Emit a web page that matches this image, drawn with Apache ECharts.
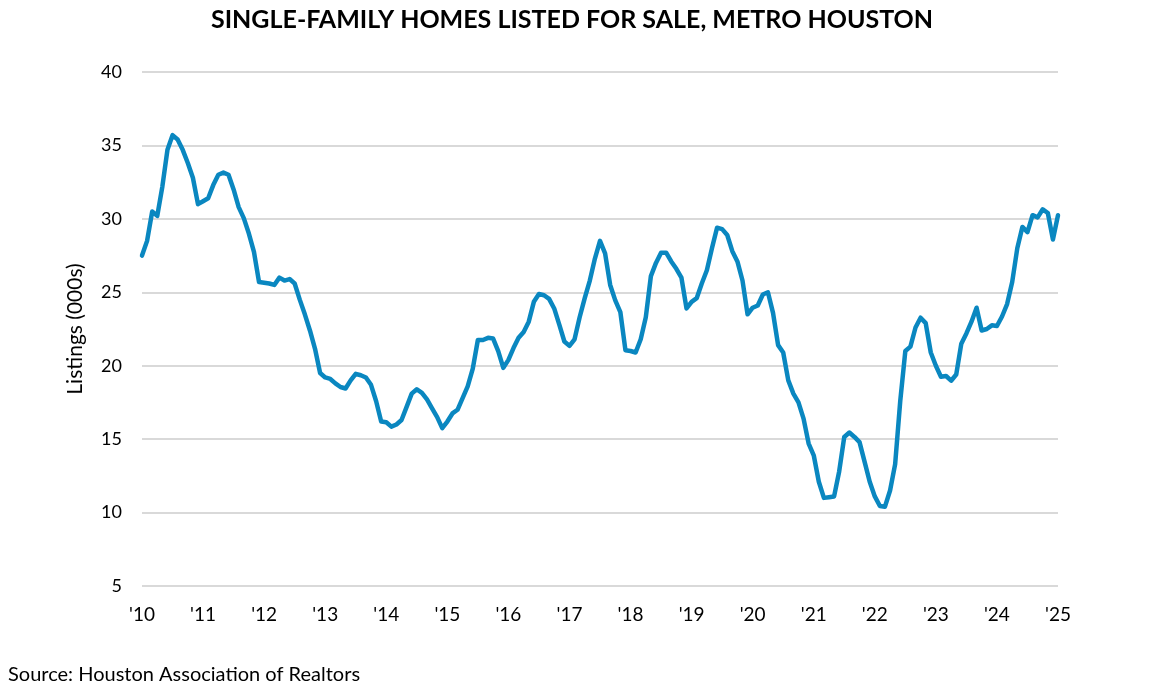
<!DOCTYPE html>
<html>
<head>
<meta charset="utf-8">
<script src="https://cdn.jsdelivr.net/npm/echarts@6/dist/echarts.min.js"></script>
<style>
html,body{margin:0;padding:0;background:#fff;}
#chart{width:1158px;height:695px;}
</style>
</head>
<body>
<div id="chart"></div>
<script>
// Monthly listings (000s), Jan 2010 .. Jan 2025
const years = ['2010','2011','2012','2013','2014','2015','2016','2017','2018','2019','2020','2021','2022','2023','2024','2025'];
const tickLabels = ["'10","'11","'12","'13","'14","'15","'16","'17","'18","'19","'20","'21","'22","'23","'24","'25"];
const v2010 = [27.5, 28.5, 30.5, 30.2, 32.2, 34.7, 35.7, 35.4, 34.7, 33.8, 32.8, 31.0];
const v2011 = [31.2, 31.4, 32.3, 33.0, 33.15, 33.0, 32.0, 30.8, 30.05, 29.0, 27.75, 25.7];
const v2012 = [25.65, 25.6, 25.5, 26.0, 25.8, 25.9, 25.6, 24.5, 23.5, 22.4, 21.15, 19.5];
const v2013 = [19.2, 19.1, 18.8, 18.55, 18.45, 19.0, 19.45, 19.35, 19.2, 18.7, 17.6, 16.2];
const v2014 = [16.15, 15.85, 16.0, 16.3, 17.2, 18.1, 18.4, 18.15, 17.7, 17.1, 16.5, 15.75];
const v2015 = [16.2, 16.75, 17.0, 17.8, 18.6, 19.8, 21.75, 21.75, 21.9, 21.85, 21.0, 19.85];
const v2016 = [20.4, 21.2, 21.9, 22.3, 23.0, 24.35, 24.88, 24.8, 24.55, 23.9, 22.8, 21.65];
const v2017 = [21.35, 21.8, 23.3, 24.6, 25.8, 27.3, 28.5, 27.65, 25.5, 24.45, 23.65, 21.05];
const v2018 = [21.0, 20.9, 21.8, 23.3, 26.1, 27.0, 27.7, 27.7, 27.1, 26.6, 26.0, 23.9];
const v2019 = [24.35, 24.6, 25.6, 26.5, 28.0, 29.4, 29.3, 28.9, 27.8, 27.1, 25.8, 23.5];
const v2020 = [23.95, 24.1, 24.85, 25.0, 23.6, 21.4, 20.9, 19.0, 18.1, 17.5, 16.4, 14.7];
const v2021 = [13.9, 12.1, 11.0, 11.05, 11.1, 12.8, 15.15, 15.45, 15.15, 14.8, 13.45, 12.1];
const v2022 = [11.1, 10.45, 10.4, 11.5, 13.3, 17.6, 21.0, 21.3, 22.6, 23.27, 22.9, 20.9];
const v2023 = [20.0, 19.25, 19.3, 18.98, 19.4, 21.5, 22.2, 23.0, 23.95, 22.4, 22.5, 22.75];
const v2024 = [22.7, 23.35, 24.2, 25.7, 28.0, 29.45, 29.1, 30.25, 30.1, 30.65, 30.4, 28.6];
const v2025 = [30.25];

const yearValues = [v2010,v2011,v2012,v2013,v2014,v2015,v2016,v2017,v2018,v2019,v2020,v2021,v2022,v2023,v2024,v2025];
const categories = [];
const values = [];
yearValues.forEach((arr, yi) => {
  arr.forEach((v, mi) => {
    categories.push(years[yi] + '-' + String(mi + 1).padStart(2, '0'));
    values.push(v);
  });
});

const FONT = 'Lato, "Open Sans", sans-serif';
const chart = echarts.init(document.getElementById('chart'), null, {renderer: 'canvas'});
chart.setOption({
  animation: false,
  backgroundColor: '#ffffff',
  title: {
    text: 'SINGLE-FAMILY HOMES LISTED FOR SALE, METRO HOUSTON',
    left: 567, top: 2, textAlign: 'center',
    textStyle: {fontFamily: FONT, fontWeight: 'bold', fontSize: 25, color: '#000'}
  },
  graphic: [{
    type: 'text', left: 8, top: 665,
    style: {text: 'Source: Houston Association of Realtors', font: '20px ' + FONT, fill: '#000'}
  }],
  grid: {left: 142, right: 100, top: 72, bottom: 109, containLabel: false},
  xAxis: {
    type: 'category',
    data: categories,
    boundaryGap: false,
    axisLine: {show: false},
    axisTick: {show: false},
    splitLine: {show: false},
    axisLabel: {
      interval: 11,
      margin: 19,
      fontFamily: FONT, fontSize: 19, color: '#000',
      formatter: (val) => tickLabels[years.indexOf(val.slice(0, 4))]
    }
  },
  yAxis: {
    type: 'value',
    min: 5, max: 40, interval: 5,
    name: 'Listings (000s)',
    nameLocation: 'middle',
    nameGap: 56,
    nameTextStyle: {fontFamily: FONT, fontSize: 21, color: '#000'},
    axisLine: {show: false},
    axisTick: {show: false},
    axisLabel: {margin: 20, fontFamily: FONT, fontSize: 18, color: '#000'},
    splitLine: {lineStyle: {color: '#d9d9d9', width: 2}}
  },
  series: [{
    type: 'line',
    data: values,
    showSymbol: false,
    lineStyle: {color: '#0a87c0', width: 4.5, join: 'round', cap: 'round'},
    itemStyle: {color: '#0a87c0'}
  }]
});
</script>
</body>
</html>
